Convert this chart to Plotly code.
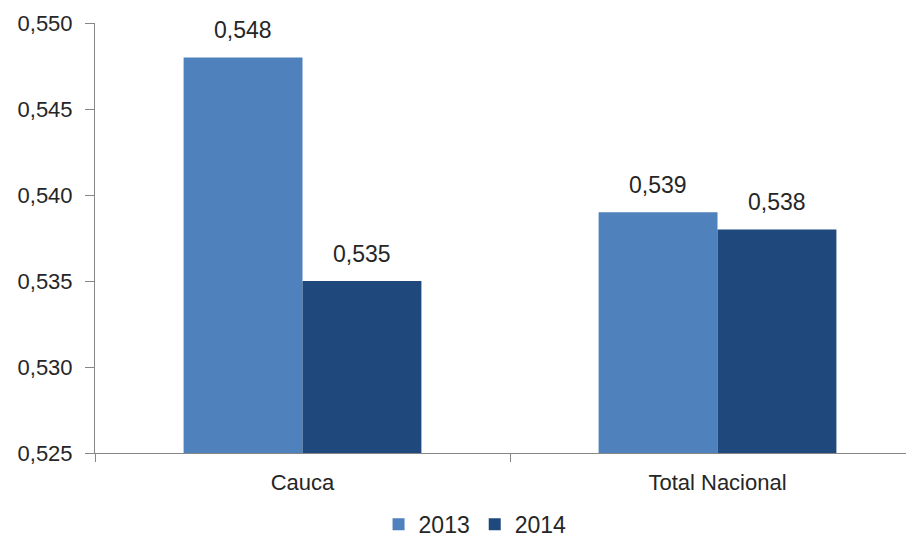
import plotly.graph_objects as go

categories = ["Cauca", "Total Nacional"]
years = ["2013", "2014"]
values_2013 = [0.548, 0.539]
values_2014 = [0.535, 0.538]
colors = ["#4F81BD", "#1F497D"]

FONT = "Liberation Sans, Arial"
TXT = "#262626"
BARGAP = 0.427

fig = go.Figure()
series = [values_2013, values_2014]
for name, vals, col in zip(years, series, colors):
    fig.add_trace(go.Bar(
        x=categories, y=vals, name=name, marker_color=col,
        marker_line_width=0, hoverinfo="x+y+name",
    ))

# data labels above each bar (positions derived from category index and bar group layout)
bar_w = (1 - BARGAP) / len(series)
for si, vals in enumerate(series):
    off = (si - (len(series) - 1) / 2) * bar_w
    for ci, v in enumerate(vals):
        fig.add_annotation(
            x=ci + off, y=v, xref="x", yref="y",
            text=f"{v:.3f}".replace(".", ","), showarrow=False,
            yanchor="middle", yshift=27,
            font=dict(family=FONT, size=23, color=TXT),
        )

fig.update_layout(
    width=914, height=539,
    margin=dict(l=87, r=8, t=15, b=94),
    paper_bgcolor="white", plot_bgcolor="white",
    barmode="group", bargap=BARGAP, bargroupgap=0,
    separators=",.",
    font=dict(family=FONT, size=22, color=TXT),
    showlegend=True,
    legend=dict(orientation="h", xref="container", yref="container",
                x=0.511, xanchor="center", y=0.042, yanchor="middle",
                font=dict(size=23), itemwidth=30, tracegroupgap=0),
    xaxis=dict(range=[-0.5, 1.4735], showline=True, linecolor="#868686", linewidth=1,
               ticks="outside", tickson="boundaries", ticklen=8, tickcolor="#868686",
               showgrid=False, tickfont=dict(size=22), automargin=False,
               ticklabelstandoff=10),
    yaxis=dict(range=[0.525, 0.550], dtick=0.005, tickformat=".3f", showline=True,
               linecolor="#868686", linewidth=1, ticks="outside", ticklen=9,
               tickcolor="#868686", showgrid=False, zeroline=False,
               tickfont=dict(size=22), automargin=False, ticklabelstandoff=8),
)

fig.write_html("out.html")
